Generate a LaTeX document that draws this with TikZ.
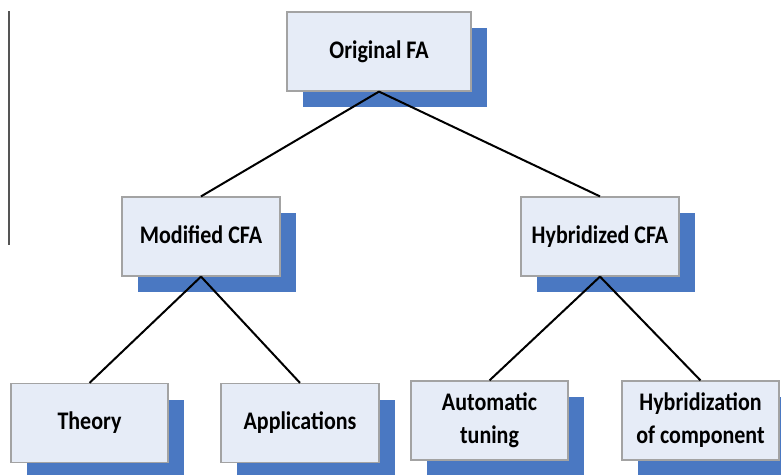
\documentclass[tikz,border=0pt]{standalone}
\usepackage{fontspec}
\setmainfont{Carlito}
\usetikzlibrary{shadows}
\definecolor{boxfill}{HTML}{E6ECF7}
\definecolor{boxline}{HTML}{A3A3A3}
\definecolor{shadowblue}{HTML}{4A78C2}
\definecolor{sideline}{HTML}{555555}
\newcommand{\tallt}[1]{\scalebox{1}[1.15]{\begin{tabular}{@{}c@{}}#1\end{tabular}}}
\tikzset{
  fabox/.style={draw=boxline, line width=1.2pt, fill=boxfill, inner sep=0pt,
    minimum height=79pt, align=center,
    font=\fontsize{22}{28.5}\selectfont\bfseries,
    drop shadow={shadow xshift=16pt, shadow yshift=-16pt, fill=shadowblue, opacity=1}},
  link/.style={draw=black, line width=2pt}
}
\begin{document}
\begin{tikzpicture}[x=1pt,y=-1pt]
\useasboundingbox (0,0) rectangle (781,474);
\coordinate (vtop) at (9,11);
\coordinate (vbot) at (9,245);
\draw[sideline, line width=2pt] (vtop) -- (vbot);
\node[fabox, minimum width=184pt] (orig) at (379,51.5) {\tallt{Original FA}};
\node[fabox, minimum width=158pt] (mod) at (201,236.5) {\tallt{Modified CFA}};
\node[fabox, minimum width=158pt] (hyb) at (600,236.5) {\tallt{Hybridized CFA}};
\node[fabox, minimum width=157pt] (theory) at (89.5,423) {\tallt{Theory}};
\node[fabox, minimum width=158pt] (app) at (300,423) {\tallt{Applications}};
\node[fabox, minimum width=157pt] (auto) at (489.5,420.5) {\tallt{Automatic\\tuning}};
\node[fabox, minimum width=157pt] (hybc) at (700.5,420.5) {\tallt{Hybridization\\of component}};
\draw[link] (orig.south) -- (mod.north);
\draw[link] (orig.south) -- (hyb.north);
\draw[link] (mod.south) -- (theory.north);
\draw[link] (mod.south) -- (app.north);
\draw[link] (hyb.south) -- (auto.north);
\draw[link] (hyb.south) -- (hybc.north);
\end{tikzpicture}
\end{document}
